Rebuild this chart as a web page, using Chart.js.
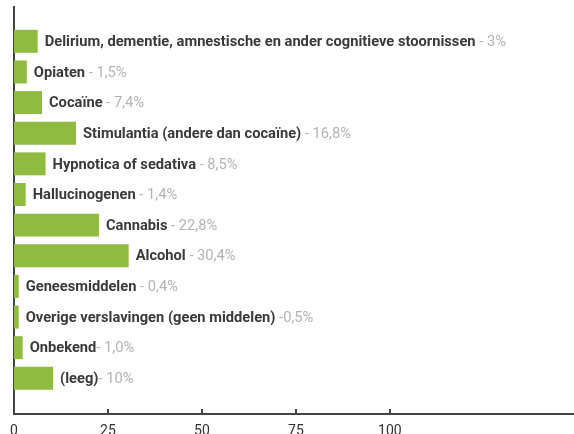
<!DOCTYPE html>
<html>
<head>
<meta charset="utf-8">
<script src="https://cdn.jsdelivr.net/npm/chart.js@4/dist/chart.umd.min.js"></script>
<style>
  html, body { margin: 0; padding: 0; background: #fff; }
  #wrap { width: 574px; height: 434px; }
</style>
</head>
<body>
<div id="wrap"><canvas id="c" width="574" height="434"></canvas></div>
<script>
const categories = [
  'Delirium, dementie, amnestische en ander cognitieve stoornissen',
  'Opiaten',
  'Cocaïne',
  'Stimulantia (andere dan cocaïne)',
  'Hypnotica of sedativa',
  'Hallucinogenen',
  'Cannabis',
  'Alcohol',
  'Geneesmiddelen',
  'Overige verslavingen (geen middelen)',
  'Onbekend',
  '(leeg)'
];
const valueLabels = [' - 3%', ' - 1,5%', ' - 7,4%', ' - 16,8%', ' - 8,5%', ' - 1,4%', ' - 22,8%', ' - 30,4%', ' - 0,4%', ' -0,5%', '- 1,0%', '- 10%'];
const barValues = [6.3, 3.4, 7.45, 16.5, 8.4, 3.1, 22.6, 30.5, 1.25, 1.25, 2.3, 10.4];
const xTicks = [0, 25, 50, 75, 100];

const GREEN = '#8fbb41';
const AXIS = '#444444';
const Y_MIN = -1.12, Y_MAX = 12.165;

const barLabelPlugin = {
  id: 'barLabels',
  afterDatasetsDraw(chart) {
    const ctx = chart.ctx;
    const meta = chart.getDatasetMeta(0);
    ctx.save();
    ctx.textBaseline = 'middle';
    ctx.textAlign = 'left';
    meta.data.forEach((el, i) => {
      let x = el.x + 7;
      const y = el.y + 1;
      ctx.font = 'bold 14.7px Roboto';
      ctx.fillStyle = '#3a3a3a';
      ctx.fillText(categories[i], x, y);
      x += ctx.measureText(categories[i]).width;
      ctx.font = '14.7px Roboto';
      ctx.fillStyle = '#b3b3b3';
      ctx.fillText(valueLabels[i], x, y);
    });
    ctx.restore();
  }
};

const tickMarkPlugin = {
  id: 'tickMarks',
  afterDraw(chart) {
    const ctx = chart.ctx;
    const xs = chart.scales.x;
    const bottom = chart.chartArea.bottom;
    ctx.save();
    ctx.strokeStyle = AXIS;
    ctx.lineWidth = 2;
    xs.ticks.forEach(t => {
      if (t.value === 0) return;
      const px = Math.round(xs.getPixelForValue(t.value));
      ctx.beginPath();
      ctx.moveTo(px, bottom - 5);
      ctx.lineTo(px, bottom);
      ctx.stroke();
    });
    ctx.restore();
  }
};

new Chart(document.getElementById('c'), {
  type: 'bar',
  data: {
    datasets: [{
      data: barValues.map((v, i) => ({ x: v, y: i })),
      backgroundColor: GREEN,
      borderWidth: 0,
      barPercentage: 0.75,
      categoryPercentage: 1
    }]
  },
  options: {
    indexAxis: 'y',
    responsive: false,
    animation: false,
    layout: { padding: { left: 14, top: 7, right: 0, bottom: 0 } },
    plugins: { legend: { display: false }, tooltip: { enabled: false } },
    scales: {
      x: {
        type: 'linear',
        min: 0,
        max: 149,
        bounds: 'data',
        offset: false,
        afterBuildTicks: s => { s.ticks = xTicks.map(v => ({ value: v })); s.min = 0; s.max = 149; },
        afterFit: s => { s.height = 20; },
        grid: { display: false, drawTicks: false },
        border: { display: true, color: AXIS, width: 2 },
        ticks: {
          padding: 9,
          color: '#333',
          font: { family: 'Roboto', size: 14 },
          maxRotation: 0,
          autoSkip: false
        }
      },
      y: {
        type: 'linear',
        min: Y_MIN,
        max: Y_MAX,
        bounds: 'data',
        offset: false,
        grace: 0,
        reverse: true,
        afterDataLimits: s => { s.min = Y_MIN; s.max = Y_MAX; },
        afterBuildTicks: s => { s.min = Y_MIN; s.max = Y_MAX; },
        afterFit: s => { s.width = 0; },
        grid: { display: false, drawTicks: false, offset: false },
        border: { display: true, color: AXIS, width: 2 },
        ticks: { display: false }
      }
    }
  },
  plugins: [barLabelPlugin, tickMarkPlugin]
});
</script>
</body>
</html>
